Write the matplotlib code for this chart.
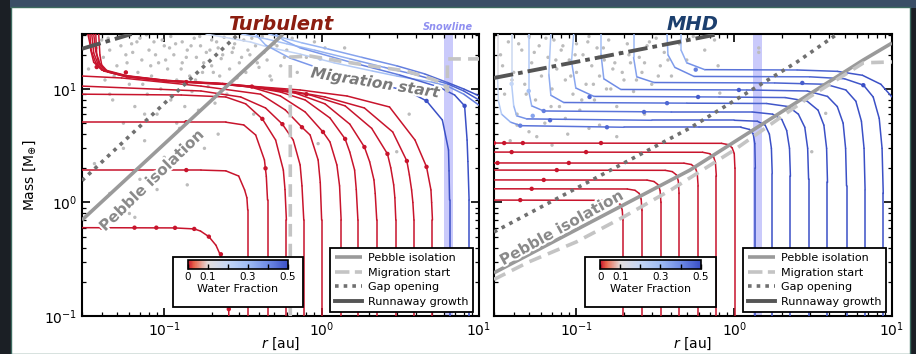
import numpy as np
import matplotlib
matplotlib.use("Agg")
import matplotlib.pyplot as plt
from matplotlib.collections import LineCollection
from matplotlib.colors import LinearSegmentedColormap, Normalize
from matplotlib.cm import ScalarMappable
from matplotlib.lines import Line2D
from matplotlib.patches import Rectangle
import matplotlib.patheffects as pe

# water fraction colour scale
WF_NODES = [0.0, 0.03, 0.1, 0.2, 0.3, 0.4, 0.5]
WF_COLORS = ["#c8142c", "#e8654c", "#e4dedd", "#c4d6f6", "#9fbcf5", "#6f8ce6", "#3b50c6"]

# ---------------- Turbulent disc ----------------
TURB_RED_R = [
    [0.257, 0.256, 0.25, 0.235, 0.213, 0.192, 0.17, 0.155, 0.116, 0.03],
    [0.339, 0.339, 0.335, 0.324, 0.297, 0.246, 0.171, 0.03],
    [0.453, 0.453, 0.445, 0.433, 0.381, 0.32, 0.246, 0.03],
    [0.597, 0.597, 0.585, 0.571, 0.51, 0.42, 0.329, 0.246, 0.128, 0.03],
    [0.77, 0.77, 0.75, 0.73, 0.66, 0.563, 0.44, 0.306, 0.171, 0.03],
    [1.0, 1.0, 0.98, 0.95, 0.845, 0.75, 0.588, 0.409, 0.171, 0.0536, 0.03],
    [1.33, 1.33, 1.30, 1.25, 1.13, 1.02, 0.786, 0.547, 0.354, 0.235, 0.103, 0.0576, 0.0412, 0.0367, 0.0346, 0.0327],
    [1.70, 1.70, 1.66, 1.62, 1.51, 1.41, 1.13, 0.786, 0.547, 0.349, 0.235, 0.103, 0.0576, 0.042, 0.0383, 0.0367, 0.0356],
    [2.24, 2.24, 2.19, 2.15, 2.02, 1.87, 1.51, 1.05, 0.68, 0.409, 0.235, 0.103, 0.0576, 0.0425, 0.039, 0.0372, 0.0367],
    [2.96, 2.96, 2.92, 2.87, 2.75, 2.62, 2.08, 1.41, 0.845, 0.473, 0.235, 0.103, 0.0576, 0.044, 0.040, 0.039, 0.0383],
    [3.86, 3.86, 3.80, 3.73, 3.61, 3.48, 2.83, 1.87, 1.05, 0.588, 0.349, 0.235, 0.103, 0.0576, 0.040, 0.0356, 0.0341, 0.0337],
    [5.06, 5.06, 5.0, 4.95, 4.64, 3.92, 2.70, 1.45, 0.73, 0.349, 0.235, 0.103, 0.0576, 0.0425, 0.0377, 0.0356, 0.0346],
]
TURB_RED_M = [
    [0.1, 0.17, 0.24, 0.31, 0.42, 0.5, 0.56, 0.585, 0.597, 0.6],
    [0.1, 0.86, 1.1, 1.29, 1.71, 1.90, 1.93, 1.93],
    [0.1, 1.05, 1.7, 2.37, 3.93, 4.82, 5.1, 5.1],
    [0.1, 0.70, 1.3, 1.93, 3.55, 5.45, 7.4, 8.5, 8.85, 9.0],
    [0.1, 0.70, 1.4, 2.14, 3.55, 4.9, 6.8, 8.5, 9.6, 10.6],
    [0.1, 0.70, 1.5, 2.37, 3.93, 4.6, 6.53, 9.0, 10.6, 12.5, 13.0],
    [0.1, 0.70, 1.4, 2.14, 3.41, 4.18, 6.27, 8.67, 10.4, 11.0, 11.7, 12.8, 14.4, 17, 21, 30.5],
    [0.1, 0.70, 1.3, 1.93, 2.78, 3.63, 5.55, 8.0, 9.4, 10.5, 11.1, 11.9, 13.1, 14.7, 17.2, 21.5, 30.5],
    [0.1, 0.70, 1.2, 1.58, 2.28, 3.08, 4.9, 7.4, 9.2, 10.2, 11.1, 11.8, 13.0, 14.4, 16.6, 20.3, 30.5],
    [0.1, 0.70, 1.1, 1.43, 2.02, 2.68, 4.5, 7.1, 8.85, 10.0, 11.0, 11.7, 12.8, 14.1, 16.3, 19.9, 30.5],
    [0.1, 0.70, 1.0, 1.29, 1.75, 2.32, 4.18, 6.8, 8.5, 9.8, 10.6, 11.1, 11.8, 12.9, 14.7, 17.2, 22, 30.5],
    [0.1, 0.70, 1.0, 1.29, 2.06, 3.55, 6.94, 8.67, 9.8, 10.6, 11.2, 11.9, 13.0, 14.4, 16.9, 20.8, 30.5],
]
TURB_RED_DOT_R = [0.040, 0.0647, 0.089, 0.117, 0.155, 0.192, 0.229, 0.257, 0.138, 0.138, 0.44,
                  0.42, 0.563, 0.75, 1.02, 1.41, 1.87, 2.62, 3.48, 4.64, 0.0372, 0.057, 0.138, 0.36, 0.8]
TURB_RED_DOT_M = [0.6, 0.6, 0.6, 0.598, 0.585, 0.5, 0.35, 0.115, 1.93, 5.1, 2.0,
                  5.45, 4.9, 4.6, 4.18, 3.63, 3.08, 2.68, 2.32, 2.06, 15.6, 14, 11.5, 10.5, 9.0]

TURB_BLUE_R = [
    [10, 8.0, 6.3, 5.0, 3.0, 2.1, 1.2, 0.73, 0.45, 0.354, 0.26, 0.184],
    [10, 8.0, 6.3, 4.0, 2.5, 1.5, 0.9, 0.6, 0.45, 0.31],
    [10, 8.0, 6.3, 4.5, 3.0, 1.8, 1.1, 0.75, 0.46],
    [8.65, 8.65, 8.5, 8.4, 8.1, 7.0, 5.57, 3.12, 1.51, 0.73, 0.57, 0.51],
    [6.5, 6.5, 6.45, 6.4, 5.85, 4.64, 3.61, 2.34, 1.13, 0.63, 0.44, 0.38],
]
TURB_BLUE_M = [
    [7.2, 9.0, 10.6, 11.5, 13.0, 14.4, 17.0, 20.3, 23.5, 25.9, 28.0, 30.5],
    [8.0, 9.6, 11.1, 13.3, 15.5, 18.5, 22.0, 25.0, 27.5, 30.5],
    [8.7, 10.0, 11.4, 13.6, 16.0, 19.0, 22.5, 25.5, 30.5],
    [0.1, 1.05, 2.3, 3.55, 7.1, 8.85, 10.4, 13.3, 17.3, 23, 27, 30.5],
    [0.1, 1.05, 1.9, 2.9, 5.33, 7.85, 9.4, 11.1, 14.1, 18.7, 24.4, 30.5],
]
TURB_BLUE_WF = [
    [0.45, 0.42, 0.38, 0.34, 0.3, 0.27, 0.24, 0.22, 0.2, 0.19, 0.18, 0.17],
    [0.5, 0.48, 0.45, 0.42, 0.38, 0.34, 0.31, 0.29, 0.27, 0.25],
    [0.5, 0.49, 0.47, 0.44, 0.41, 0.37, 0.33, 0.3, 0.28],
    [0.5, 0.5, 0.5, 0.5, 0.5, 0.5, 0.48, 0.45, 0.4, 0.35, 0.32, 0.3],
    [0.5, 0.5, 0.5, 0.5, 0.5, 0.5, 0.48, 0.45, 0.4, 0.35, 0.32, 0.3],
]
TURB_BLUE_DOT_R = [4.64, 8.1, 0.98]
TURB_BLUE_DOT_M = [7.85, 7.1, 18.5]
TURB_BLUE_DOT_WF = [0.5, 0.5, 0.25]

TURB_GREY_R = [0.035, 0.038, 0.04, 0.042, 0.045, 0.047, 0.05, 0.052, 0.055, 0.057,
               0.06, 0.062, 0.065, 0.068, 0.07, 0.072, 0.075, 0.078, 0.08, 0.083,
               0.086, 0.09, 0.092, 0.095, 0.1, 0.1, 0.105, 0.11, 0.11, 0.115,
               0.12, 0.125, 0.13, 0.13, 0.135, 0.14, 0.145, 0.15, 0.155, 0.16,
               0.165, 0.17, 0.175, 0.18, 0.185, 0.19, 0.2, 0.2, 0.21, 0.22,
               0.225, 0.23, 0.24, 0.25, 0.26, 0.27, 0.28, 0.29, 0.3, 0.32,
               0.33, 0.35, 0.37, 0.38, 0.4, 0.42, 0.45, 0.48, 0.5, 0.55,
               0.6, 0.65, 0.7, 0.8, 0.9,
               0.036, 0.045, 0.06, 0.07, 0.055, 0.09, 0.14, 0.065, 0.22, 1.05, 1.4, 0.95, 3.0, 3.6,
               0.033, 0.037, 0.041, 0.044, 0.048, 0.053, 0.058, 0.063, 0.067, 0.073,
               0.077, 0.082, 0.088, 0.097, 0.102, 0.108, 0.118, 0.128, 0.138, 0.148,
               0.158, 0.168, 0.178, 0.195, 0.205, 0.215, 0.235, 0.255, 0.275, 0.31,
               0.34, 0.36, 0.39, 0.43, 0.47, 0.52, 0.58, 0.045, 0.075, 0.12]
TURB_GREY_M = [25, 18, 27, 12, 22, 8, 16, 29, 5, 20,
               11, 25, 7, 14, 28, 18, 3.5, 9, 22, 13,
               26, 6, 17, 10, 24, 2.5, 15, 29, 8, 20,
               12, 4.5, 26, 17, 7, 22, 13, 9.5, 28, 19,
               6.5, 24, 14, 3, 21, 10.5, 27, 16, 7.5, 23,
               13, 18.5, 28.5, 9, 15, 21, 25, 12.5, 17, 27,
               14, 20, 6, 24, 15.5, 29, 18, 12, 25, 16,
               22, 28, 14, 19, 26,
               2.2, 1.2, 0.8, 1.6, 3, 1.3, 1.43, 0.74, 4, 23, 23, 3.3, 2.8, 6.0,
               15, 23, 19, 28, 13, 24, 17, 21, 26, 11,
               30, 16, 20, 27, 18, 23, 25, 15, 19, 24,
               12, 29, 17, 22, 14, 26, 20, 11, 23, 19,
               22, 28, 17, 21, 13, 24, 19, 9, 6, 5]

TURB_PEB_R, TURB_PEB_M = [0.03, 0.57], [0.70, 30.5]
TURB_GAP_R, TURB_GAP_M = [0.03, 0.296], [1.56, 30.5]
TURB_RUN_R, TURB_RUN_M = [0.03, 0.062], [22.6, 30.5]
TURB_MIG_R = [0.632, 0.632, 0.845, 1.31, 2.1, 3.45, 5.06, 6.0, 6.3, 6.3, 10]
TURB_MIG_M = [0.1, 19.1, 19.5, 17.6, 15.9, 14.4, 12.2, 11.1, 9.6, 18.4, 18.4]
TURB_SNOW = [6.0, 6.8]

# ---------------- MHD disc ----------------
MHD_RED_R = [
    [0.197, 0.197, 0.195, 0.19, 0.178, 0.16, 0.03],
    [0.26, 0.26, 0.257, 0.25, 0.235, 0.21, 0.03],
    [0.343, 0.343, 0.339, 0.33, 0.31, 0.28, 0.03],
    [0.447, 0.447, 0.442, 0.43, 0.405, 0.365, 0.03],
    [0.59, 0.59, 0.583, 0.567, 0.535, 0.48, 0.03],
    [0.77, 0.77, 0.76, 0.74, 0.70, 0.63, 0.03],
    [1.01, 1.01, 1.0, 0.97, 0.92, 0.83, 0.03],
]
MHD_RED_M = [
    [0.1, 0.7, 0.86, 0.96, 1.02, 1.045, 1.05],
    [0.1, 0.85, 1.07, 1.2, 1.28, 1.315, 1.32],
    [0.1, 1.0, 1.27, 1.43, 1.53, 1.575, 1.58],
    [0.1, 1.2, 1.55, 1.75, 1.87, 1.92, 1.93],
    [0.1, 1.4, 1.8, 2.02, 2.16, 2.22, 2.23],
    [0.1, 1.7, 2.25, 2.52, 2.69, 2.77, 2.78],
    [0.1, 2.0, 2.7, 3.03, 3.23, 3.32, 3.34],
]
MHD_RED_DOT_R = [0.030, 0.0348, 0.0457, 0.143, 0.0388, 0.115, 0.0316, 0.0894, 0.075, 0.062, 0.052, 0.044]
MHD_RED_DOT_M = [3.34, 3.34, 3.34, 3.34, 2.78, 2.78, 2.23, 2.23, 1.93, 1.58, 1.32, 1.05]

MHD_BLUE_R = [
    [1.36, 1.36, 1.35, 1.32, 1.25, 1.1, 0.6, 0.2, 0.0443, 0.0382, 0.0335, 0.032, 0.0316, 0.0316],
    [1.74, 1.74, 1.72, 1.67, 1.57, 1.4, 1.0, 0.3, 0.0484, 0.0418, 0.040, 0.0388, 0.0388],
    [2.27, 2.27, 2.24, 2.15, 2.0, 1.75, 1.3, 0.4, 0.062, 0.052, 0.0498, 0.0498],
    [2.96, 2.96, 2.92, 2.8, 2.55, 2.2, 1.6, 0.5, 0.083, 0.0688, 0.0668, 0.0688],
    [3.9, 3.9, 3.85, 3.7, 3.4, 2.9, 2.1, 0.8, 0.129, 0.099, 0.093, 0.096],
    [5.15, 5.15, 5.08, 4.9, 4.5, 3.9, 2.9, 1.2, 0.191, 0.149, 0.143, 0.143],
    [6.75, 6.75, 6.65, 6.4, 5.9, 5.1, 3.8, 1.8, 0.31, 0.241, 0.23, 0.23],
    [8.8, 8.8, 8.65, 8.3, 7.6, 6.6, 5.0, 3.0, 0.556, 0.42, 0.38, 0.375],
    [10, 8.5, 6.5, 4.5, 2.5, 0.65, 0.50, 0.46, 0.46],
]
MHD_BLUE_M = [
    [0.1, 2.0, 3.3, 4.0, 4.4, 4.6, 4.6, 4.6, 4.75, 5.1, 6.0, 7.85, 12.8, 30.5],
    [0.1, 1.8, 3.0, 4.0, 4.8, 5.2, 5.3, 5.3, 5.45, 5.8, 7.1, 11.1, 30.5],
    [0.1, 1.7, 3.0, 4.3, 5.4, 6.0, 6.27, 6.27, 6.4, 7.1, 9.6, 30.5],
    [0.1, 1.6, 3.0, 4.6, 6.0, 7.0, 7.45, 7.5, 7.6, 8.8, 13.5, 30.5],
    [0.1, 1.5, 3.0, 4.8, 6.5, 7.8, 8.4, 8.5, 8.6, 10.2, 17.5, 30.5],
    [0.1, 1.4, 3.0, 5.0, 7.0, 8.6, 9.6, 9.8, 9.9, 12.3, 20.3, 30.5],
    [0.1, 1.3, 3.0, 5.2, 7.8, 9.8, 11.0, 11.3, 11.4, 12.8, 19.0, 30.5],
    [0.1, 1.2, 3.0, 5.5, 8.5, 10.8, 12.3, 12.8, 12.9, 15.5, 20.0, 30.5],
    [8.5, 11.0, 13.2, 14.3, 14.7, 14.8, 17.0, 22.0, 30.5],
]
MHD_BLUE_WF = [
    [0.5, 0.5, 0.5, 0.5, 0.5, 0.5, 0.48, 0.46, 0.42, 0.36, 0.28, 0.2, 0.14, 0.1],
    [0.5, 0.5, 0.5, 0.5, 0.5, 0.5, 0.48, 0.46, 0.42, 0.35, 0.28, 0.2, 0.15],
    [0.5, 0.5, 0.5, 0.5, 0.5, 0.5, 0.48, 0.46, 0.42, 0.36, 0.29, 0.2],
    [0.5, 0.5, 0.5, 0.5, 0.5, 0.5, 0.48, 0.46, 0.42, 0.37, 0.3, 0.22],
    [0.5, 0.5, 0.5, 0.5, 0.5, 0.5, 0.48, 0.46, 0.42, 0.37, 0.31, 0.24],
    [0.5, 0.5, 0.5, 0.5, 0.5, 0.5, 0.48, 0.46, 0.42, 0.38, 0.32, 0.26],
    [0.5, 0.5, 0.5, 0.5, 0.5, 0.5, 0.48, 0.46, 0.42, 0.38, 0.33, 0.28],
    [0.5, 0.5, 0.5, 0.5, 0.5, 0.5, 0.48, 0.46, 0.42, 0.39, 0.34, 0.3],
    [0.5, 0.5, 0.5, 0.48, 0.46, 0.42, 0.36, 0.3, 0.3],
]
MHD_BLUE_DOT_R = [0.044, 0.156, 0.0528, 0.068, 0.268, 0.062, 0.375, 0.121, 0.59, 1.07, 2.7, 6.58, 0.57, 0.0316, 0.0388, 0.0498]
MHD_BLUE_DOT_M = [4.75, 4.6, 5.8, 5.3, 6.27, 6.4, 7.5, 8.5, 8.5, 9.8, 11.3, 10.8, 14.8, 12.8, 11.1, 9.6]
MHD_BLUE_DOT_WF = [0.42, 0.46, 0.35, 0.46, 0.46, 0.42, 0.46, 0.46, 0.48, 0.48, 0.48, 0.5, 0.42, 0.14, 0.2, 0.29]

MHD_GREY_R = [0.033, 0.035, 0.037, 0.04, 0.042, 0.045, 0.047, 0.05, 0.052, 0.055,
              0.058, 0.06, 0.063, 0.066, 0.07, 0.072, 0.075, 0.078, 0.08, 0.085,
              0.088, 0.09, 0.095, 0.1, 0.1, 0.105, 0.11, 0.115, 0.12, 0.125,
              0.13, 0.135, 0.14, 0.15, 0.155, 0.16, 0.17, 0.18, 0.19, 0.2,
              0.21, 0.22, 0.23, 0.25, 0.26, 0.28, 0.3, 0.32, 0.34, 0.36,
              0.4, 0.45, 0.5, 0.55, 0.65, 0.75,
              0.038, 0.05, 0.07, 0.12, 0.18, 0.27, 1.43, 1.43, 3.1, 3.8, 0.81, 0.79,
              0.034, 0.039, 0.043, 0.048, 0.054, 0.059, 0.064, 0.069, 0.074, 0.082,
              0.092, 0.098, 0.108, 0.118, 0.128, 0.138, 0.148, 0.165, 0.175, 0.195,
              0.215, 0.24, 0.27, 0.29, 0.33, 0.38, 0.042, 0.056, 0.085, 0.14]
MHD_GREY_M = [20, 9, 26, 14, 6, 22, 11, 29, 17, 8,
              24, 13, 5, 19, 10, 27, 15, 7, 22, 12,
              4, 18, 9, 25, 14, 6.5, 20, 11, 29, 16,
              8, 23, 13, 18, 10, 27, 15, 7, 21, 12,
              25, 17, 9.5, 19, 14, 24, 11, 28, 16, 21,
              13, 25, 18, 29, 22, 27,
              3.5, 4.2, 3.2, 4.5, 3.8, 6, 23, 21, 2.8, 6.1, 9.2, 16,
              16, 12, 25, 9, 21, 15, 28, 7, 18, 24,
              13, 20, 8, 26, 11, 19, 23, 10, 17, 14,
              20, 12, 17, 26, 13, 18, 4.8, 3.8, 5.5, 4.8]

MHD_PEB_R, MHD_PEB_M = [0.03, 0.524, 6.58, 10], [0.24, 1.93, 18, 25.4]
MHD_GAP_R, MHD_GAP_M = [0.03, 0.524, 2.5, 4.5], [0.55, 4.53, 17.3, 30.5]
MHD_RUN_R, MHD_RUN_M = [0.03, 0.8], [12.5, 30.5]
MHD_MIG_R = [0.03, 0.05, 0.1, 0.2, 0.4, 1.0, 3.0, 6.6, 10]
MHD_MIG_M = [0.21, 0.3, 0.45, 0.75, 1.3, 2.9, 8.5, 17, 17.3]
MHD_SNOW = [1.32, 1.5]

LEGEND_LABELS = ["Pebble isolation", "Migration start", "Gap opening", "Runnaway growth"]

cmap = LinearSegmentedColormap.from_list(
    "wf", list(zip(np.array(WF_NODES) / 0.5, WF_COLORS)))
norm = Normalize(0, 0.5)

PEB_STYLE = dict(color="#9a9a9a", lw=2.6, solid_capstyle="butt")
MIG_STYLE = dict(color="#c4c4c4", lw=2.6, ls=(0, (3.5, 2.0)))
GAP_STYLE = dict(color="#707070", lw=2.6, ls=(0, (1, 1.4)))
RUN_STYLE = dict(color="#555555", lw=2.8, ls=(0, (5, 1.3, 1.2, 1.3)))
halo = [pe.withStroke(linewidth=3, foreground="white")]


def draw_track(ax, r, m, wf):
    r = np.asarray(r, float)
    m = np.asarray(m, float)
    wf = np.broadcast_to(np.asarray(wf, float), r.shape)
    pts = np.column_stack([r, m])
    segs = np.stack([pts[:-1], pts[1:]], axis=1)
    lc = LineCollection(segs, cmap=cmap, norm=norm, linewidths=1.1,
                        capstyle="round", zorder=3)
    lc.set_array(0.5 * (wf[:-1] + wf[1:]))
    ax.add_collection(lc)


def draw_panel(ax, red_r, red_m, red_dr, red_dm, blue_r, blue_m, blue_wf,
               blue_dr, blue_dm, blue_dwf, grey_r, grey_m,
               peb, gap, run, mig, snow):
    ax.set_xscale("log")
    ax.set_yscale("log")
    ax.set_xlim(0.03, 10)
    ax.set_ylim(0.1, 30.5)
    ax.axvspan(snow[0], snow[1], color="#cacafb", lw=0, zorder=1)
    ax.scatter(grey_r, grey_m, s=6, color="#bcbcbc", edgecolors="none", zorder=2)
    for r, m in zip(red_r, red_m):
        draw_track(ax, r, m, 0.0)
    for r, m, w in zip(blue_r, blue_m, blue_wf):
        draw_track(ax, r, m, w)
    ax.scatter(red_dr, red_dm, c=np.zeros(len(red_dr)), cmap=cmap, norm=norm,
               s=10, edgecolors="none", zorder=4)
    ax.scatter(blue_dr, blue_dm, c=blue_dwf, cmap=cmap, norm=norm,
               s=10, edgecolors="none", zorder=4)
    ax.plot(*peb, zorder=5, **PEB_STYLE)
    ax.plot(*mig, zorder=5, **MIG_STYLE)
    ax.plot(*gap, zorder=5, **GAP_STYLE)
    ax.plot(*run, zorder=5, **RUN_STYLE)

    for s in ax.spines.values():
        s.set_linewidth(1.5)
    ax.tick_params(which="both", direction="in", top=True, right=True, labelsize=10)
    ax.tick_params(which="major", length=6, width=1.2)
    ax.tick_params(which="minor", length=3, width=0.9)
    ax.set_xlabel("$r$ [au]", fontsize=10, labelpad=-3)

    handles = [Line2D([], [], **PEB_STYLE),
               Line2D([], [], color="#c4c4c4", lw=2.6, ls=(0, (4, 1.5))),
               Line2D([], [], **GAP_STYLE),
               Line2D([], [], color="#555555", lw=2.8)]
    leg = ax.legend(handles, LEGEND_LABELS, loc="lower right",
                    bbox_to_anchor=(0.985, 0.014), fontsize=8, frameon=True,
                    fancybox=False, edgecolor="black", framealpha=1,
                    borderpad=0.45, labelspacing=0.42, handlelength=2.4,
                    handletextpad=0.5, borderaxespad=0)
    leg.get_frame().set_linewidth(1.3)
    leg.set_zorder(10)

    ax.add_patch(Rectangle((0.229, 0.032), 0.328, 0.177, transform=ax.transAxes,
                           facecolor="white", edgecolor="black", lw=1.3, zorder=8))
    cax = ax.inset_axes([0.267, 0.167, 0.252, 0.032])
    cax.set_zorder(9)
    cb = plt.colorbar(ScalarMappable(norm=norm, cmap=cmap), cax=cax,
                      orientation="horizontal", ticks=[0, 0.1, 0.2, 0.3, 0.4, 0.5])
    cb.ax.set_xticklabels(["0", "0.1", "", "0.3", "", "0.5"])
    cb.ax.tick_params(direction="in", length=3.5, width=1, pad=2, labelsize=7.5)
    cb.outline.set_linewidth(1.2)
    cb.set_label("Water Fraction", fontsize=8, labelpad=2)


fig = plt.figure(figsize=(9.16, 3.54), dpi=100)
fig.patch.set_facecolor("#1b1f25")
fig.add_artist(Rectangle((10 / 916, 346 / 354), 1, 8 / 354, transform=fig.transFigure,
                         facecolor="#3a4e66", edgecolor="none", zorder=-10))
fig.add_artist(Rectangle((11 / 916, 0), 899 / 916, 347 / 354, transform=fig.transFigure,
                         facecolor="white", edgecolor="#3d6b60", lw=1, zorder=-9))

ax1 = fig.add_axes([82 / 916, 38 / 354, 397 / 916, 282 / 354])
ax2 = fig.add_axes([494 / 916, 38 / 354, 398 / 916, 282 / 354])

draw_panel(ax1, TURB_RED_R, TURB_RED_M, TURB_RED_DOT_R, TURB_RED_DOT_M,
           TURB_BLUE_R, TURB_BLUE_M, TURB_BLUE_WF,
           TURB_BLUE_DOT_R, TURB_BLUE_DOT_M, TURB_BLUE_DOT_WF,
           TURB_GREY_R, TURB_GREY_M,
           (TURB_PEB_R, TURB_PEB_M), (TURB_GAP_R, TURB_GAP_M),
           (TURB_RUN_R, TURB_RUN_M), (TURB_MIG_R, TURB_MIG_M), TURB_SNOW)
draw_panel(ax2, MHD_RED_R, MHD_RED_M, MHD_RED_DOT_R, MHD_RED_DOT_M,
           MHD_BLUE_R, MHD_BLUE_M, MHD_BLUE_WF,
           MHD_BLUE_DOT_R, MHD_BLUE_DOT_M, MHD_BLUE_DOT_WF,
           MHD_GREY_R, MHD_GREY_M,
           (MHD_PEB_R, MHD_PEB_M), (MHD_GAP_R, MHD_GAP_M),
           (MHD_RUN_R, MHD_RUN_M), (MHD_MIG_R, MHD_MIG_M), MHD_SNOW)

ax1.set_ylabel("Mass [M$_{\\oplus}$]", fontsize=10)
ax2.tick_params(labelleft=False)

ax1.set_title("Turbulent", color="#8c1d10", fontsize=14, fontweight="bold",
              style="italic", pad=3)
ax2.set_title("MHD", color="#1c3f6e", fontsize=14, fontweight="bold",
              style="italic", pad=3)
ax1.text(6.3, 1.008, "Snowline", transform=ax1.get_xaxis_transform(), ha="center",
         va="bottom", fontsize=7, color="#8f8ff0", fontweight="bold", style="italic")

ax1.text(0.0828, 1.55, "Pebble isolation", rotation=44, ha="center", va="center",
         rotation_mode="anchor", fontsize=11, fontweight="bold", color="#8a8a8a",
         path_effects=halo, zorder=6)
ax2.text(0.080, 0.593, "Pebble isolation", rotation=29, ha="center", va="center",
         rotation_mode="anchor", fontsize=11, fontweight="bold", color="#8a8a8a",
         path_effects=halo, zorder=6)
ax1.text(2.18, 11.3, "Migration start", rotation=-9, ha="center", va="center",
         rotation_mode="anchor", fontsize=11, fontweight="bold", style="italic",
         color="#7a7a7a", path_effects=halo, zorder=6)

fig.savefig("out.png", dpi=100, facecolor=fig.get_facecolor())
